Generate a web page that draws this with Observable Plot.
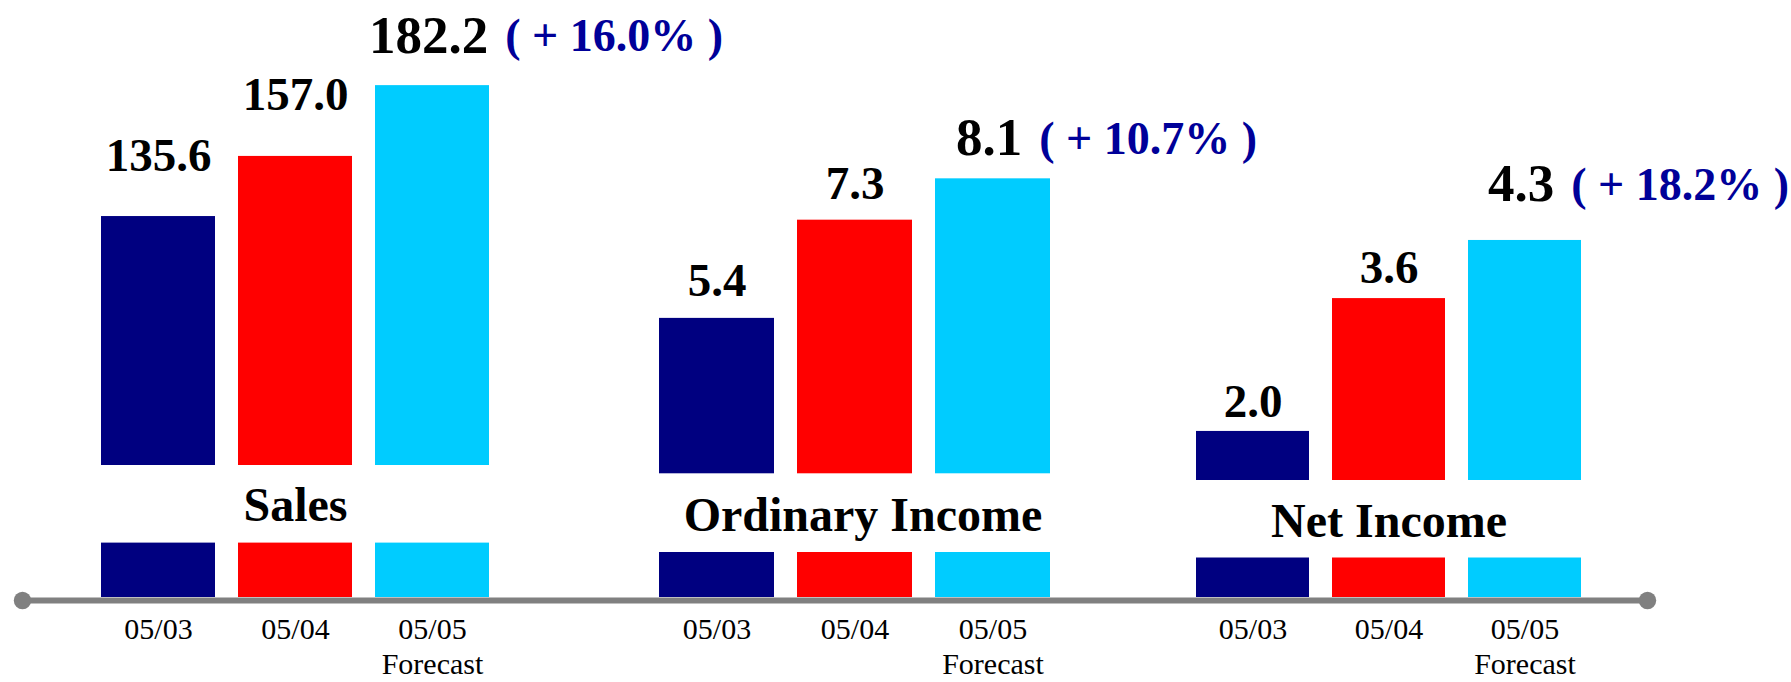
<!DOCTYPE html>
<html>
<head>
<meta charset="utf-8">
<script src="https://cdn.jsdelivr.net/npm/d3@7"></script>
<script src="https://cdn.jsdelivr.net/npm/@observablehq/plot@0.6"></script>
<style>
  body { margin: 0; background: #fff; }
  #chart { position: relative; width: 1791px; height: 682px; overflow: hidden; background: #fff; }
  #chart svg { position: absolute; left: 0; top: 0; }
</style>
</head>
<body>
<div id="chart"></div>
<script>
// ---------- data ----------
const groups = ["Sales", "Ordinary Income", "Net Income"];
const years = ["05/03", "05/04", "05/05"];
const xTickLabels = ["05/03", "05/04", "05/05\nForecast"];
const salesValues = [135.6, 157.0, 182.2];
const ordinaryIncomeValues = [5.4, 7.3, 8.1];
const netIncomeValues = [2.0, 3.6, 4.3];
const forecastGrowthPct = [16.0, 10.7, 18.2];
const yearColors = ["#000080", "#ff0000", "#00ccff"];

// ---------- layout (pixels / scale settings) ----------
const W = 1791, H = 682, MB = 85;
const FONT = '"Liberation Serif", "Times New Roman", serif';
const layout = [
  {span: [100, 490],   yMax: 212.5, bandTop: 465,   bandBottom: 54.4, labelDy: -91.7, labelDx: 0, gaps: [61, 61, 50]},
  {span: [658, 1051],  yMax: 11.55, bandTop: 473.3, bandBottom: 45,   labelDy: -81.7, labelDx: 8, gaps: [37, 36, 41]},
  {span: [1195, 1582], yMax: 7.19,  bandTop: 480,   bandBottom: 39.5, labelDy: -75.7, labelDx: 0, gaps: [29, 31, 56]}
];
const series = [salesValues, ordinaryIncomeValues, netIncomeValues];

const ctx = document.createElement("canvas").getContext("2d");
function textWidth(s, size) {
  ctx.font = `bold ${size}px "Liberation Serif"`;
  return ctx.measureText(s).width;
}

const chart = document.getElementById("chart");

groups.forEach((g, i) => {
  const L = layout[i];
  const rows = years.map((yr, j) => {
    const [line1, line2 = ""] = xTickLabels[j].split("\n");
    return {year: yr, value: series[i][j], line1, line2, gap: L.gaps[j], idx: j};
  });
  const marks = [
    Plot.barY(rows, {x: "year", y: "value", fill: "year"}),
    Plot.rect([g], {insetTop: L.bandTop, insetBottom: L.bandBottom, insetLeft: -11, insetRight: -11, fill: "white"}),
    Plot.text([g], {text: d => d, frameAnchor: "bottom", lineAnchor: "middle", dy: L.labelDy, dx: L.labelDx,
      fontSize: 48, fontWeight: "bold", fontFamily: FONT, fill: "black"}),
    Plot.text(rows, {x: "year", text: "line1", frameAnchor: "bottom", lineAnchor: "top", dy: 20,
      fontSize: 30, fontFamily: FONT, fill: "black"}),
    Plot.text(rows.filter(r => r.line2), {x: "year", text: "line2", frameAnchor: "bottom", lineAnchor: "top", dy: 55,
      fontSize: 30, fontFamily: FONT, fill: "black"})
  ];
  rows.forEach((r) => {
    const forecast = r.idx === rows.length - 1;
    const size = forecast ? 53 : 47;
    const txt = r.value.toFixed(1);
    marks.push(Plot.text([r], {x: "year", y: "value", text: () => txt, lineAnchor: "middle", dy: -r.gap,
      dx: forecast ? -4 : 0, fontSize: size, fontWeight: "bold", fontFamily: FONT, fill: "black"}));
    if (forecast) {
      const pct = `( + ${forecastGrowthPct[i].toFixed(1)}% )`;
      marks.push(Plot.text([r], {x: "year", y: "value", text: () => pct, textAnchor: "start", lineAnchor: "middle",
        dy: -r.gap + 1, dx: -4 + textWidth(txt, size) / 2 + 17,
        fontSize: 46, fontWeight: "bold", fontFamily: FONT, fill: "#000099"}));
    }
  });
  const svg = Plot.plot({
    width: W, height: H,
    marginLeft: L.span[0], marginRight: W - L.span[1], marginTop: 0, marginBottom: MB,
    style: {background: "transparent", fontFamily: FONT, overflow: "visible"},
    x: {type: "band", domain: years, paddingInner: 0.17, paddingOuter: 0, axis: null},
    y: {domain: [0, L.yMax], axis: null},
    color: {domain: years, range: yearColors},
    marks
  });
  chart.appendChild(svg);
});

// baseline with rounded end dots
const base = Plot.plot({
  width: W, height: H,
  marginLeft: 22, marginRight: W - 1647, marginTop: 0, marginBottom: MB,
  style: {background: "transparent"},
  x: {domain: [0, 1], axis: null},
  y: {domain: [0, 1], axis: null},
  marks: [
    Plot.ruleY([0], {stroke: "#808080", strokeWidth: 6, dy: 3}),
    Plot.dot([0], {y: d => d, frameAnchor: "left", r: 8.7, fill: "#808080", stroke: "none", dy: 3}),
    Plot.dot([0], {y: d => d, frameAnchor: "right", r: 8.7, fill: "#808080", stroke: "none", dy: 3})
  ]
});
chart.appendChild(base);
</script>
</body>
</html>
